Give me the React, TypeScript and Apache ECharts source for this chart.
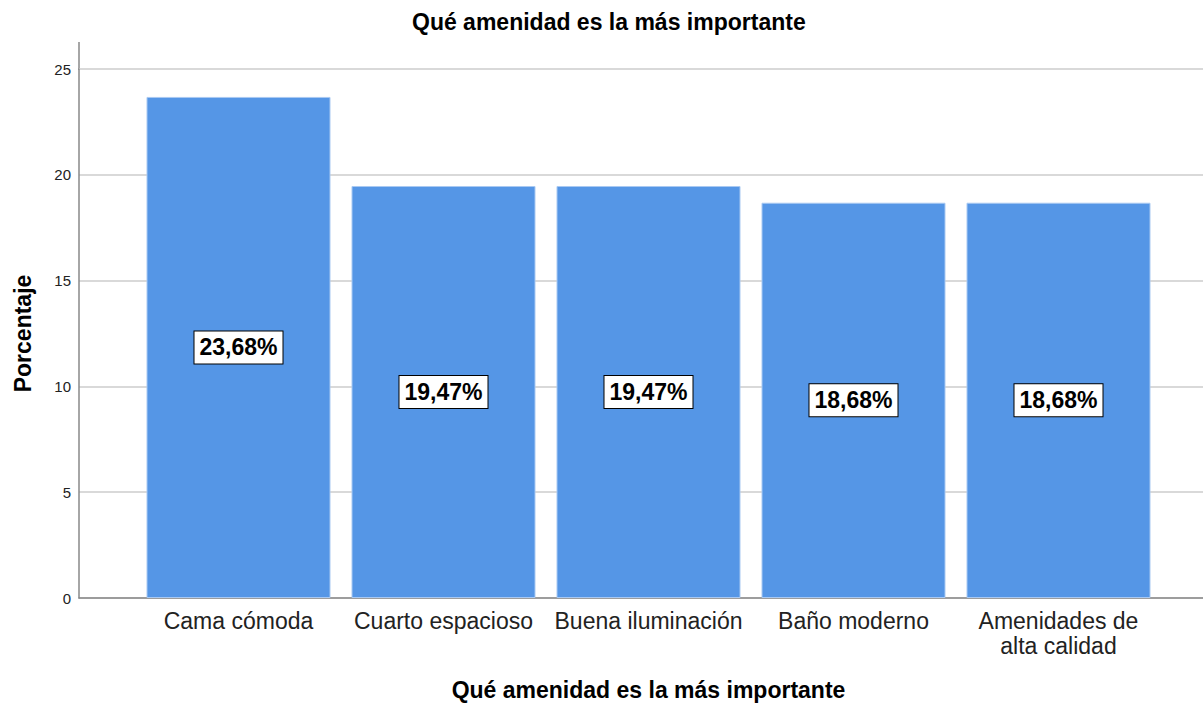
import React, { useEffect, useRef } from "react";
import * as echarts from "echarts";

const chartTitle = "Qué amenidad es la más importante";
const xAxisTitle = "Qué amenidad es la más importante";
const yAxisTitle = "Porcentaje";
const categories = [
  "Cama cómoda",
  "Cuarto espacioso",
  "Buena iluminación",
  "Baño moderno",
  "Amenidades de\nalta calidad",
];
const percentages = [23.68, 19.47, 19.47, 18.68, 18.68];
const yTicks = [0, 5, 10, 15, 20, 25];

const FONT = "'Liberation Sans', Arial, sans-serif";

export default function App() {
  const ref = useRef<HTMLDivElement>(null);
  useEffect(() => {
    if (!ref.current) return;
    const chart = echarts.init(ref.current, null, { renderer: "svg" });
    const yMin = yTicks[0];
    const yMax = yTicks[yTicks.length - 1];
    const yInterval = yTicks[1] - yTicks[0];
    chart.setOption({
      animation: false,
      backgroundColor: "#ffffff",
      textStyle: { fontFamily: FONT },
      title: {
        text: chartTitle,
        left: 407,
        top: 5,
        textStyle: { fontFamily: FONT, fontSize: 23, fontWeight: "bold", color: "#000" },
      },
      grid: [
        { left: 79, right: 0, top: 69, bottom: 105, outerBoundsMode: "none", containLabel: false },
        { left: 136, right: 42, top: 69, bottom: 105, outerBoundsMode: "none", containLabel: false },
      ],
      xAxis: [
        {
          type: "value",
          gridIndex: 0,
          min: 0,
          max: 1,
          axisLine: { show: true, lineStyle: { color: "#888888", width: 1.5 } },
          axisTick: { show: false },
          axisLabel: { show: false },
          splitLine: { show: false },
        },
        {
          type: "category",
          gridIndex: 1,
          data: categories,
          axisLine: { show: false },
          axisTick: { show: false },
          axisLabel: {
            fontFamily: FONT,
            fontSize: 23,
            color: "#222",
            margin: 10,
            lineHeight: 25,
            interval: 0,
          },
          name: xAxisTitle,
          nameLocation: "middle",
          nameGap: 80,
          nameTextStyle: { fontFamily: FONT, fontSize: 23, fontWeight: "bold", color: "#000" },
        },
      ],
      yAxis: [
        {
          type: "value",
          gridIndex: 0,
          min: yMin,
          max: yMax,
          interval: yInterval,
          axisLine: { show: true, lineStyle: { color: "#888888", width: 1.5 } },
          axisTick: { show: false },
          axisLabel: { fontFamily: FONT, fontSize: 15, color: "#222", margin: 8 },
          splitLine: { show: true, lineStyle: { color: "#d9d9d9", width: 2 } },
          name: yAxisTitle,
          nameLocation: "middle",
          nameGap: 45,
          nameTextStyle: { fontFamily: FONT, fontSize: 23, fontWeight: "bold", color: "#000" },
        },
        {
          type: "value",
          gridIndex: 1,
          min: yMin,
          max: yMax,
          interval: yInterval,
          show: false,
          splitLine: { show: false },
        },
      ],
      graphic: [
        {
          type: "line",
          shape: { x1: 79, y1: 42, x2: 79, y2: 70 },
          style: { stroke: "#888888", lineWidth: 1.5 },
        },
      ],
      series: [
        {
          type: "bar",
          xAxisIndex: 1,
          yAxisIndex: 1,
          data: percentages,
          barWidth: 184,
          itemStyle: { color: "#5596e6", borderColor: "#a9c9f2", borderWidth: 1 },
          label: {
            show: true,
            position: "inside",
            formatter: (p: any) => p.value.toFixed(2).replace(".", ",") + "%",
            fontFamily: FONT,
            fontSize: 23,
            fontWeight: "bold",
            color: "#000",
            backgroundColor: "#ffffff",
            borderColor: "#000",
            borderWidth: 1,
            padding: [6, 5, 3, 5],
          },
        },
      ],
    });
    return () => chart.dispose();
  }, []);
  return (
    <div
      ref={ref}
      style={{ position: "fixed", left: 0, top: 0, width: 1203, height: 703 }}
    />
  );
}
